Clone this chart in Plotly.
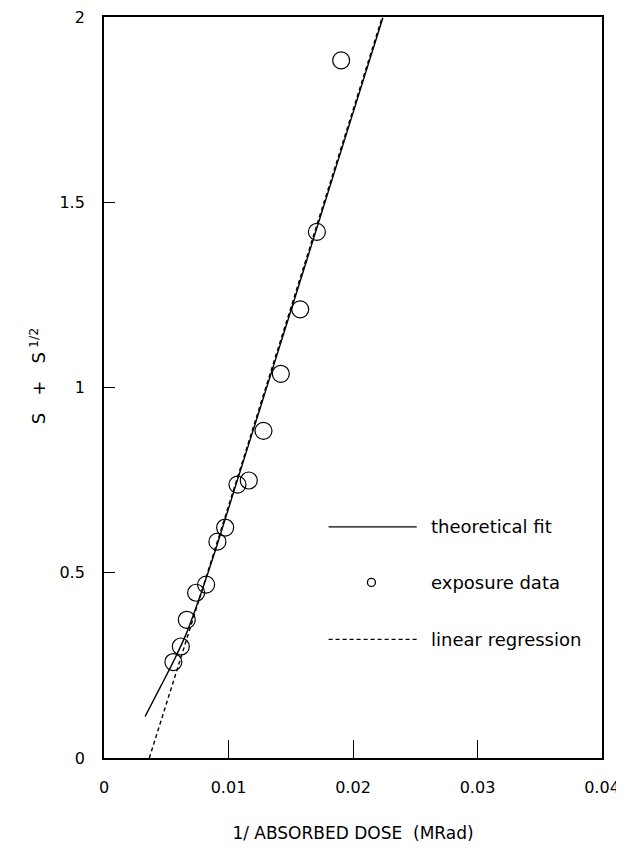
import plotly.graph_objects as go

# exposure data (1/dose in 1/MRad, S + S^1/2)
exp_x = [0.00557, 0.00617, 0.00665, 0.00740, 0.00820, 0.00911, 0.00973,
         0.01072, 0.01163, 0.01281, 0.01420, 0.01576, 0.01710, 0.01905]
exp_y = [0.259, 0.301, 0.373, 0.446, 0.468, 0.584, 0.622,
         0.738, 0.749, 0.883, 1.037, 1.211, 1.420, 1.883]

# theoretical fit curve
fit_x = [0.0033, 0.0045, 0.0056, 0.0066, 0.0078, 0.0090, 0.0105,
         0.0130, 0.0160, 0.0190, 0.0224]
fit_y = [0.112, 0.190, 0.262, 0.335, 0.445, 0.566, 0.727,
         0.993, 1.313, 1.634, 1.998]

# linear regression end points
reg_x = [0.00364, 0.02235]
reg_y = [0.0, 2.0]

x_ticks = [0, 0.01, 0.02, 0.03, 0.04]
x_ticklabels = ["0", "0.01", "0.02", "0.03", "0.04"]
y_ticks = [0, 0.5, 1, 1.5, 2]
y_ticklabels = ["0", "0.5", "1", "1.5", "2"]

legend_labels = ["theoretical fit", "exposure data", "linear regression"]

FONT = "DejaVu Sans"

fig = go.Figure()
fig.add_trace(go.Scatter(x=fit_x, y=fit_y, mode="lines", line=dict(color="black", width=1.4, shape="spline"),
                         showlegend=False))
fig.add_trace(go.Scatter(x=reg_x, y=reg_y, mode="lines", line=dict(color="black", width=1.4, dash="4px,3px"),
                         showlegend=False))
fig.add_trace(go.Scatter(x=exp_x, y=exp_y, mode="markers",
                         marker=dict(symbol="circle-open", size=17, color="black", line=dict(width=1.2)),
                         showlegend=False))

# manual legend
rows_y = [0.312, 0.237, 0.160]
fig.add_shape(type="line", xref="paper", yref="paper", x0=0.451, x1=0.628, y0=rows_y[0], y1=rows_y[0],
              line=dict(color="black", width=1.3))
fig.add_shape(type="line", xref="paper", yref="paper", x0=0.451, x1=0.628, y0=rows_y[2], y1=rows_y[2],
              line=dict(color="black", width=1.3, dash="4px,3px"))
fig.add_trace(go.Scatter(x=[0.537], y=[rows_y[1]], xaxis="x2", yaxis="y2", mode="markers",
                         marker=dict(symbol="circle-open", size=8, color="black", line=dict(width=1.3)),
                         showlegend=False, hoverinfo="skip"))
for lab, yy in zip(legend_labels, rows_y):
    fig.add_annotation(x=0.652, y=yy, xref="paper", yref="paper", text=lab, showarrow=False,
                       xanchor="left", yanchor="middle", font=dict(family=FONT, size=18, color="black"))

fig.update_layout(
    width=616, height=840,
    margin=dict(l=96, r=22, t=9, b=90),
    paper_bgcolor="white", plot_bgcolor="white",
    font=dict(family=FONT, size=16, color="black"),
    xaxis=dict(range=[0, 0.04], tickvals=x_ticks, ticktext=x_ticklabels,
               ticks="inside", ticklen=18, tickwidth=1.3, tickcolor="black",
               showline=True, linecolor="black", linewidth=1.8, mirror=True,
               showgrid=False, zeroline=False, ticklabelstandoff=14, automargin=False,
               ticklabeloverflow="allow",
               tickfont=dict(family=FONT, size=16),
               title=dict(text="1/ ABSORBED DOSE&nbsp;&nbsp;(MRad)", standoff=31,
                          font=dict(family=FONT, size=17))),
    yaxis=dict(range=[0, 2], tickvals=y_ticks, ticktext=y_ticklabels,
               ticks="inside", ticklen=11, tickwidth=1.3, tickcolor="black",
               showline=True, linecolor="black", linewidth=1.8, mirror=True,
               showgrid=False, zeroline=False, ticklabelstandoff=14, automargin=False,
               ticklabeloverflow="allow",
               tickfont=dict(family=FONT, size=16),
               title=dict(text="&nbsp;&nbsp;&nbsp;&nbsp;S&nbsp;&nbsp;&nbsp;+&nbsp;&nbsp;&nbsp;S<sup>&nbsp;1/2</sup>",
                          standoff=9, font=dict(family=FONT, size=18))),
    xaxis2=dict(range=[0, 1], overlaying="x", visible=False),
    yaxis2=dict(range=[0, 1], overlaying="y", visible=False),
)

fig.write_html("out.html")
